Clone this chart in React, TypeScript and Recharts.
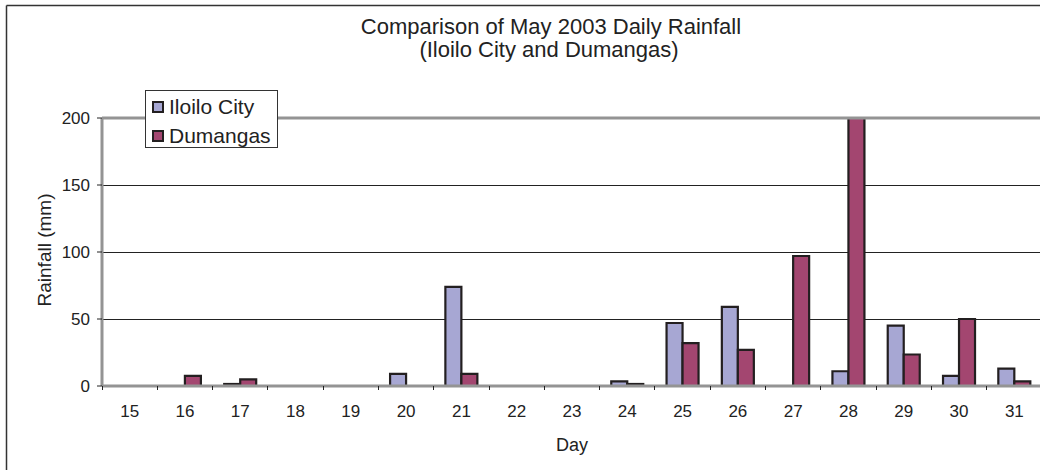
import React from 'react';
import {
    BarChart,
    Bar,
    XAxis,
    YAxis,
    CartesianGrid,
    ReferenceLine,
    Legend,
} from 'recharts';

// May 2003 daily rainfall (mm)
const days = ['15', '16', '17', '18', '19', '20', '21', '22', '23', '24', '25', '26', '27', '28', '29', '30', '31'];
const iloiloCity = [0, 0, 1.5, 0, 0, 9, 74, 0, 0, 3.5, 47, 59, 0, 11, 45, 7.5, 13];
// day 28 runs off the top of the axis in the original
const dumangas = [0, 7.5, 5, 0, 0, 0, 9, 0, 0, 1.5, 32, 27, 97, 210, 23.5, 50, 3.5];
const yTicks = [0, 50, 100, 150, 200];

const seriesList = [
    { key: 'iloilo', name: 'Iloilo City', color: '#a7a7d3' },
    { key: 'dumangas', name: 'Dumangas', color: '#a34670' },
];

const data = days.map((day, i) => ({ day, iloilo: iloiloCity[i], dumangas: dumangas[i] }));

const FONT = '"Liberation Sans", Arial, Helvetica, sans-serif';
const INK = '#222';
const EDGE = '#231f20';
const AXIS_GRAY = '#949494';

const DayTick = (props: any) => {
    const { x, y, payload } = props;
    const half = payload && payload.offset ? payload.offset : 0;
    return (
        <g>
            <line x1={x - half} x2={x - half} y1={y} y2={y + 4} stroke={INK} strokeWidth={1} shapeRendering="crispEdges" />
            <text x={x} y={y + 19} dy="0.71em" textAnchor="middle" fontSize={17} fill={INK} fontFamily={FONT}>
                {payload.value}
            </text>
        </g>
    );
};

const renderXTitle = (props: any) => {
    const vb = props.viewBox;
    return (
        <text x={vb.x + vb.width / 2} y={vb.y + 64.5} textAnchor="middle" fontSize={18} fill={INK} fontFamily={FONT}>
            Day
        </text>
    );
};

const renderYTitle = (props: any) => {
    const vb = props.viewBox;
    const cx = vb.x + 51;
    const cy = vb.y + vb.height / 2 - 2;
    return (
        <text x={cx} y={cy} transform={`rotate(-90 ${cx} ${cy})`} textAnchor="middle" fontSize={19} fill={INK} fontFamily={FONT}>
            Rainfall (mm)
        </text>
    );
};

const LegendBox = () => (
    <div
        style={{
            position: 'relative',
            width: 131,
            height: 56,
            background: '#fff',
            border: '1px solid #333',
            fontFamily: FONT,
            fontSize: 21,
            color: INK,
        }}
    >
        {seriesList.map((s, i) => (
            <div key={s.key} style={{ position: 'absolute', left: 6, top: 2 + i * 29, height: 27, display: 'flex', alignItems: 'center' }}>
                <span
                    style={{
                        display: 'inline-block',
                        width: 8,
                        height: 8,
                        background: s.color,
                        border: `2px solid ${EDGE}`,
                        marginRight: 5,
                    }}
                />
                <span style={{ lineHeight: '27px', whiteSpace: 'nowrap' }}>{s.name}</span>
            </div>
        ))}
    </div>
);

export default function App() {
    return (
        <div
            style={{
                position: 'absolute',
                left: 0,
                top: 0,
                width: 1040,
                height: 470,
                overflow: 'hidden',
                background: '#fff',
                fontFamily: FONT,
            }}
        >
            <BarChart
                width={1060}
                height={470}
                data={data}
                margin={{ top: 118, right: 18, bottom: 14, left: 0 }}
                barCategoryGap="21%"
                barGap={0}
            >
                <CartesianGrid vertical={false} stroke={INK} strokeWidth={1} shapeRendering="crispEdges" />
                <XAxis
                    dataKey="day"
                    height={70}
                    tickLine={false}
                    tickSize={0}
                    tickMargin={0}
                    axisLine={{ stroke: AXIS_GRAY, strokeWidth: 3 }}
                    tick={<DayTick />}
                    interval={0}
                    label={renderXTitle}
                />
                <YAxis
                    width={102}
                    domain={[0, 200]}
                    ticks={yTicks}
                    allowDataOverflow
                    tickSize={5}
                    tickMargin={7}
                    tickLine={{ stroke: INK }}
                    axisLine={{ stroke: AXIS_GRAY, strokeWidth: 3 }}
                    tick={{ fontSize: 17, fill: INK, fontFamily: FONT }}
                    label={renderYTitle}
                />
                <ReferenceLine y={200} stroke={AXIS_GRAY} strokeWidth={3} />
                {seriesList.map((s) => (
                    <Bar
                        key={s.key}
                        dataKey={s.key}
                        name={s.name}
                        fill={s.color}
                        stroke={EDGE}
                        strokeWidth={2.2}
                        isAnimationActive={false}
                    />
                ))}
                <Legend
                    layout="horizontal"
                    verticalAlign="middle"
                    align="center"
                    content={<LegendBox />}
                    wrapperStyle={{ left: 145, top: 90, width: 133, height: 58 }}
                />
            </BarChart>
            <svg
                width={1040}
                height={470}
                style={{ position: 'absolute', left: 0, top: 0, pointerEvents: 'none' }}
            >
                <line x1={6.5} y1={5.5} x2={1040} y2={5.5} stroke="#333" strokeWidth={1.5} />
                <line x1={6.5} y1={5.5} x2={6.5} y2={470} stroke="#333" strokeWidth={1.5} />
                <text x={551} y={34} textAnchor="middle" fontSize={22} fill={INK} fontFamily={FONT}>
                    Comparison of May 2003 Daily Rainfall
                </text>
                <text x={549} y={57} textAnchor="middle" fontSize={22} fill={INK} fontFamily={FONT}>
                    (Iloilo City and Dumangas)
                </text>
            </svg>
        </div>
    );
}
